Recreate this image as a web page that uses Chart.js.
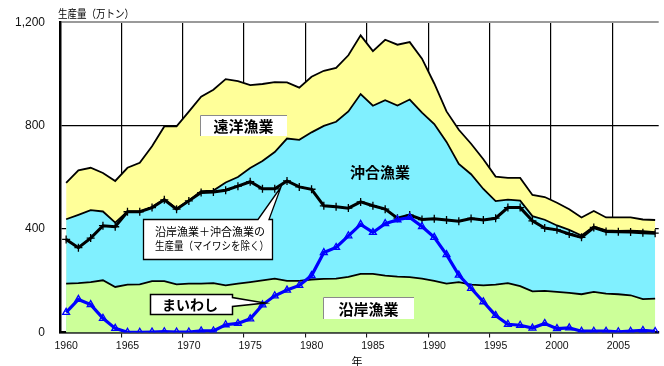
<!DOCTYPE html>
<html>
<head>
<meta charset="utf-8">
<script src="https://cdn.jsdelivr.net/npm/chart.js@4.4.1/dist/chart.umd.min.js"></script>
<style>
  html, body { margin: 0; padding: 0; background: #fff; overflow: hidden; }
  canvas { display: block; }
</style>
</head>
<body>
<canvas id="c" width="664" height="366"></canvas>
<script>
// 年
const years = [1960,1961,1962,1963,1964,1965,1966,1967,1968,1969,
               1970,1971,1972,1973,1974,1975,1976,1977,1978,1979,
               1980,1981,1982,1983,1984,1985,1986,1987,1988,1989,
               1990,1991,1992,1993,1994,1995,1996,1997,1998,1999,
               2000,2001,2002,2003,2004,2005,2006,2007,2008];

// 沿岸漁業 (万トン)
const coastal = [189,191,195,202,176,185,186,199,199,186,
                 189,189,191,182,189,195,202,208,200,200,
                 205,207,208,215,227,227,220,216,214,208,
                 200,189,195,185,182,185,191,179,159,161,
                 157,153,148,157,150,148,144,129,131];

// 沿岸漁業＋沖合漁業 (万トン)
const coastalOffshore = [438,455,473,468,425,468,468,485,516,479,
                         511,547,549,580,601,636,663,698,750,745,
                         774,799,815,855,922,877,898,878,901,850,
                         806,737,652,612,555,508,514,510,450,436,
                         414,397,375,410,395,393,394,392,388];

// 遠洋漁業＋沖合漁業＋沿岸漁業 (万トン)
const allSea = [579,627,637,617,586,637,656,720,797,797,
                854,912,939,980,972,957,961,968,967,947,
                989,1012,1023,1072,1149,1088,1132,1113,1123,1059,
                963,855,784,730,670,603,598,598,532,524,
                502,477,445,470,445,445,445,437,435];

// 沿岸漁業＋沖合漁業の生産量（マイワシを除く） (万トン)
const withoutSardine = [360,328,365,413,409,467,467,483,513,477,
                        509,541,543,550,566,583,556,556,586,563,
                        554,490,486,481,505,490,477,442,454,437,
                        440,435,430,441,435,442,483,483,432,404,
                        397,381,368,406,391,390,389,386,384];

// まいわし (万トン)
const sardine = [78,128,108,55,16,1,1,2,3,2,
                 2,6,6,30,35,53,107,142,164,182,
                 220,309,329,374,418,387,421,436,445,410,
                 368,301,222,171,119,66,32,28,17,35,
                 15,18,5,5,5,3,5,8,4];

// 軸の目盛り
const yTicks = [0, 400, 800, 1200];
const xLabelYears = [1960,1965,1970,1975,1980,1985,1990,1995,2000,2005];

const pts = arr => years.map((yr, i) => ({ x: yr, y: arr[i] }));

const NUM_FONT = '"Liberation Sans", Arial, sans-serif';
const JP_FONT = '"Noto Sans CJK JP", "Noto Sans", sans-serif';

// 区切り線は各5年目盛りの半年手前に引く
const gridYears = xLabelYears.slice(1).map(v => v - 0.5);
const xTickValues = xLabelYears.concat(gridYears).sort((a, b) => a - b);

function area(label, arr, color) {
  return {
    label, data: pts(arr), fill: 'origin', backgroundColor: color,
    borderColor: '#000', borderWidth: 1.8, pointRadius: 0, tension: 0
  };
}

// 図中のラベルと吹き出し
const notes = {
  id: 'notes',
  afterDraw(chart) {
    const ctx = chart.ctx;
    ctx.save();
    ctx.fillStyle = '#000';
    ctx.textBaseline = 'middle';

    // 軸タイトル
    ctx.font = '11px ' + JP_FONT;
    ctx.textAlign = 'left';
    ctx.fillText('生産量（万トン）', 58, 14, 76);
    ctx.textAlign = 'center';
    ctx.fillText('年', 357, 362);

    // 白地のラベル枠
    function plainBox(x, y, w, h, text) {
      ctx.fillStyle = '#fff';
      ctx.fillRect(x, y, w, h);
      ctx.strokeStyle = '#8a8a8a';
      ctx.lineWidth = 1;
      ctx.beginPath();
      ctx.moveTo(x + 0.5, y + h);
      ctx.lineTo(x + 0.5, y + 0.5);
      ctx.lineTo(x + w, y + 0.5);
      ctx.stroke();
      ctx.fillStyle = '#000';
      ctx.font = 'bold 15px ' + JP_FONT;
      ctx.textAlign = 'center';
      ctx.fillText(text, x + w / 2, y + h / 2 + 1);
    }
    plainBox(200, 115, 87, 21, '遠洋漁業');
    plainBox(323, 297, 91, 22, '沿岸漁業');

    ctx.fillStyle = '#000';
    ctx.font = 'bold 15px ' + JP_FONT;
    ctx.textAlign = 'center';
    ctx.fillText('沖合漁業', 380, 172);

    // 吹き出し（沿岸＋沖合、マイワシを除く）
    ctx.beginPath();
    ctx.moveTo(143.5, 219.5);
    ctx.lineTo(258, 219.5);
    ctx.lineTo(281, 187);
    ctx.lineTo(269, 219.5);
    ctx.lineTo(272.5, 219.5);
    ctx.lineTo(272.5, 259.5);
    ctx.lineTo(143.5, 259.5);
    ctx.closePath();
    ctx.fillStyle = '#fff';
    ctx.fill();
    ctx.strokeStyle = '#000';
    ctx.lineWidth = 1.3;
    ctx.stroke();
    ctx.fillStyle = '#000';
    ctx.font = '11px ' + JP_FONT;
    ctx.textAlign = 'left';
    ctx.fillText('沿岸漁業＋沖合漁業の', 155, 232, 116);
    ctx.fillText('生産量（マイワシを除く）', 155, 246, 114);

    // 吹き出し（まいわし）
    ctx.beginPath();
    ctx.moveTo(150.5, 294.5);
    ctx.lineTo(232.5, 294.5);
    ctx.lineTo(232.5, 297.5);
    ctx.lineTo(265, 303);
    ctx.lineTo(232.5, 306.5);
    ctx.lineTo(232.5, 314.5);
    ctx.lineTo(150.5, 314.5);
    ctx.closePath();
    ctx.fillStyle = '#fff';
    ctx.fill();
    ctx.strokeStyle = '#000';
    ctx.lineWidth = 1.5;
    ctx.stroke();
    ctx.fillStyle = '#000';
    ctx.font = 'bold 14px ' + JP_FONT;
    ctx.textAlign = 'center';
    ctx.fillText('まいわし', 190, 305);

    ctx.restore();
  }
};

new Chart(document.getElementById('c'), {
  type: 'line',
  data: {
    datasets: [
      {
        label: 'まいわし', data: pts(sardine), fill: false,
        borderColor: '#0000ff', borderWidth: 3.2, tension: 0,
        pointStyle: 'triangle', pointRadius: 4, pointBorderWidth: 1.3,
        pointBorderColor: '#0000ff', pointBackgroundColor: 'rgba(255,255,255,0)'
      },
      {
        label: '沿岸漁業＋沖合漁業の生産量（マイワシを除く）', data: pts(withoutSardine), fill: false,
        borderColor: '#000', borderWidth: 3, tension: 0,
        pointStyle: 'cross', pointRadius: 4, pointBorderWidth: 1.3,
        pointBorderColor: '#000'
      },
      area('沿岸漁業', coastal, '#ccff99'),
      area('沖合漁業', coastalOffshore, '#80f0ff'),
      area('遠洋漁業', allSea, '#ffff99')
    ]
  },
  options: {
    responsive: false,
    animation: false,
    events: [],
    layout: { padding: { top: 20, left: 0, right: 0, bottom: 0 } },
    plugins: { legend: { display: false }, tooltip: { enabled: false } },
    scales: {
      x: {
        type: 'linear',
        min: 1959.5,
        max: 2008.29,
        afterBuildTicks: s => { s.ticks = xTickValues.map(v => ({ value: v })); },
        afterFit: s => { s.height = 33.5; },
        border: { display: true, color: '#000', width: 2.5 },
        grid: {
          color: c => (c.tick && c.tick.value % 1 !== 0) ? '#000' : 'rgba(0,0,0,0)',
          tickColor: c => (c.tick && c.tick.value % 1 !== 0) ? '#000' : 'rgba(0,0,0,0)',
          lineWidth: 1.2,
          tickLength: 5,
          tickWidth: 1
        },
        ticks: {
          autoSkip: false, maxRotation: 0, minRotation: 0, padding: 2,
          color: '#111',
          font: { family: NUM_FONT, size: 10.5 },
          callback: v => (v % 1 === 0 ? String(v) : '')
        }
      },
      y: {
        min: 0,
        max: 1200,
        afterBuildTicks: s => { s.ticks = yTicks.map(v => ({ value: v })); },
        afterFit: s => { s.width = 60; },
        border: { display: true, color: '#000', width: 2.5 },
        grid: {
          color: c => (c.tick && c.tick.value === 1200) ? '#9a9a9a' : '#000',
          lineWidth: c => (c.tick && c.tick.value === 1200) ? 2 : 1.2,
          drawTicks: false
        },
        ticks: {
          padding: 15,
          color: '#111',
          font: { family: NUM_FONT, size: 12 },
          callback: v => v.toLocaleString('en-US')
        }
      }
    }
  },
  plugins: [notes]
});
</script>
</body>
</html>
